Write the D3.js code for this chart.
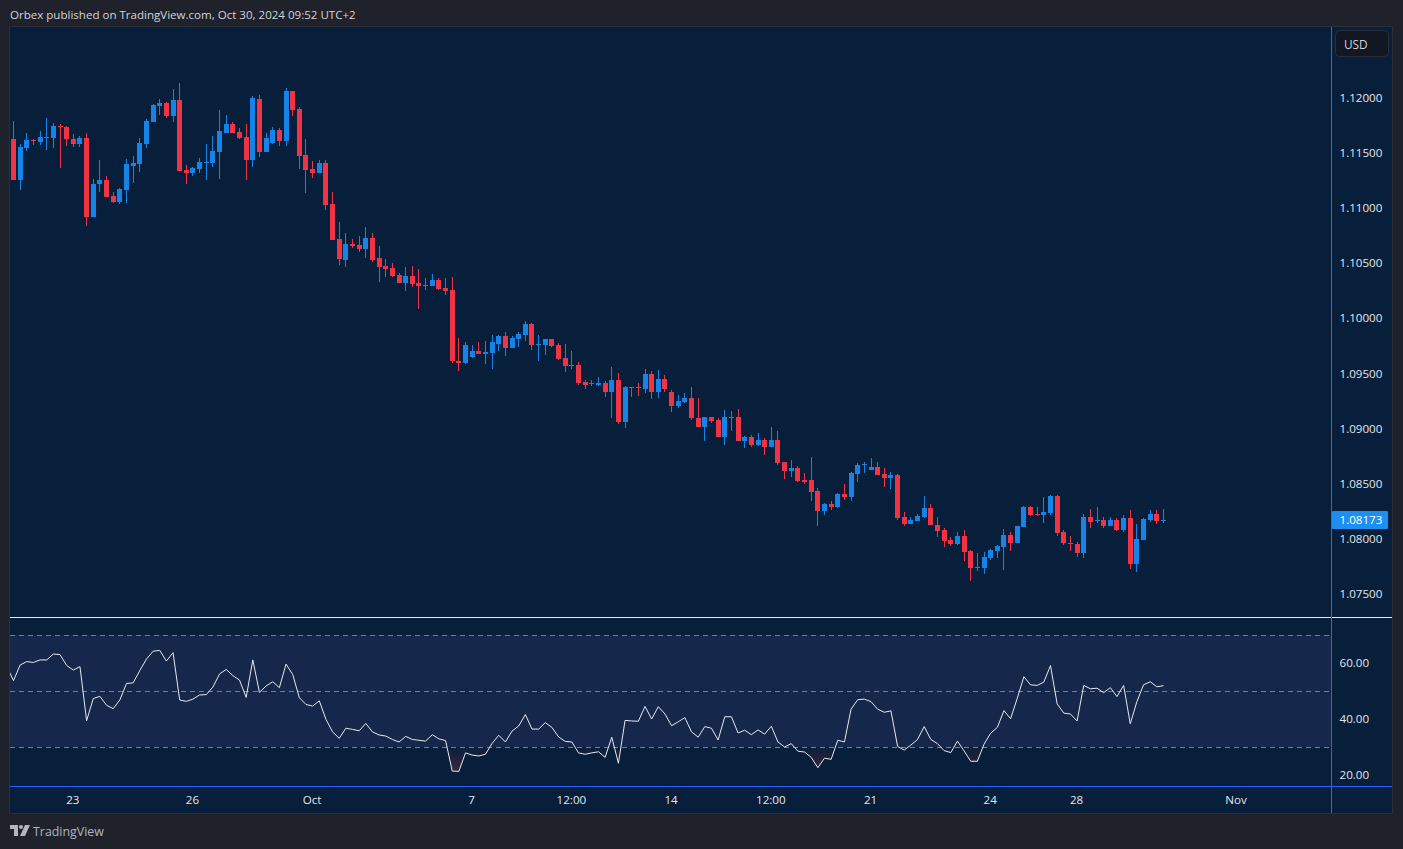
<!DOCTYPE html>
<html><head><meta charset="utf-8">
<script src="https://cdn.jsdelivr.net/npm/d3@7/dist/d3.min.js"></script>
<style>
html,body{margin:0;padding:0;background:#1f222b;overflow:hidden}
svg{display:block}
text{font-family:"Open Sans",sans-serif}
</style></head><body><svg id="c" width="1403" height="849"></svg>
<script>
const title = "Orbex published on TradingView.com, Oct 30, 2024 09:52 UTC+2";
const highs = [1.11787,1.11579,1.11678,1.11624,1.11696,1.11814,1.11769,1.11760,1.11742,1.11669,
1.11651,1.11678,1.11261,1.11434,1.11289,1.11144,1.11180,1.11443,1.11470,1.11633,
1.11805,1.11941,1.11986,1.11959,1.12077,1.12131,1.11388,1.11370,1.11452,1.11579,
1.11651,1.11887,1.11841,1.11778,1.11724,1.11760,1.12013,1.12022,1.11678,1.11733,
1.11724,1.12086,1.12059,1.11914,1.11624,1.11425,1.11434,1.11434,1.11144,1.10872,
1.10772,1.10718,1.10745,1.10827,1.10772,1.10654,1.10537,1.10500,1.10410,1.10464,
1.10473,1.10446,1.10365,1.10401,1.10365,1.10365,1.10374,1.09821,1.09785,1.09757,
1.09785,1.09794,1.09848,1.09848,1.09875,1.09839,1.09875,1.09975,1.09957,1.09848,
1.09812,1.09812,1.09776,1.09767,1.09703,1.09603,1.09440,1.09440,1.09468,1.09431,
1.09558,1.09504,1.09386,1.09377,1.09413,1.09540,1.09522,1.09531,1.09486,1.09350,
1.09305,1.09323,1.09377,1.09278,1.09106,1.09106,1.09097,1.09169,1.09160,1.09178,
1.08933,1.08942,1.08961,1.08915,1.09015,1.08979,1.08698,1.08716,1.08662,1.08598,
1.08743,1.08462,1.08326,1.08345,1.08417,1.08499,1.08607,1.08689,1.08698,1.08734,
1.08698,1.08644,1.08607,1.08589,1.08245,1.08200,1.08227,1.08390,1.08317,1.08200,
1.08101,1.08019,1.08064,1.08082,1.07901,1.07874,1.07883,1.07910,1.07946,1.08091,
1.08064,1.08119,1.08300,1.08300,1.08291,1.08381,1.08399,1.08399,1.08082,1.08028,
1.07974,1.08227,1.08273,1.08291,1.08200,1.08200,1.08191,1.08218,1.08264,1.08137,
1.08191,1.08264,1.08264,1.08273];
const lows = [1.11252,1.11162,1.11515,1.11569,1.11569,1.11524,1.11542,1.11361,1.11560,1.11551,
1.11551,1.10836,1.10917,1.11144,1.11098,1.11044,1.11035,1.11044,1.11225,1.11325,
1.11542,1.11778,1.11841,1.11814,1.11778,1.11334,1.11216,1.11289,1.11316,1.11252,
1.11370,1.11261,1.11678,1.11678,1.11624,1.11252,1.11370,1.11461,1.11506,1.11579,
1.11560,1.11560,1.11832,1.11352,1.11135,1.11271,1.11316,1.10981,1.10709,1.10482,
1.10464,1.10636,1.10600,1.10546,1.10509,1.10328,1.10374,1.10374,1.10319,1.10247,
1.10283,1.10084,1.10256,1.10292,1.10256,1.10210,1.09594,1.09522,1.09585,1.09640,
1.09676,1.09585,1.09540,1.09703,1.09658,1.09730,1.09739,1.09794,1.09712,1.09613,
1.09667,1.09739,1.09622,1.09513,1.09540,1.09395,1.09359,1.09386,1.09386,1.09286,
1.09096,1.09042,1.09006,1.09286,1.09295,1.09323,1.09268,1.09277,1.09332,1.09151,
1.09187,1.09232,1.09078,1.09015,1.08888,1.09051,1.08924,1.08852,1.08979,1.08888,
1.08825,1.08834,1.08843,1.08761,1.08834,1.08671,1.08544,1.08562,1.08517,1.08499,
1.08345,1.08118,1.08218,1.08263,1.08281,1.08354,1.08345,1.08517,1.08598,1.08625,
1.08580,1.08471,1.08453,1.08172,1.08118,1.08136,1.08163,1.08191,1.08127,1.08018,
1.07928,1.07937,1.07946,1.07802,1.07620,1.07711,1.07684,1.07811,1.07829,1.07720,
1.07892,1.07965,1.08110,1.08209,1.08209,1.08146,1.08218,1.08028,1.07946,1.07892,
1.07838,1.07829,1.08101,1.08146,1.08101,1.08119,1.08073,1.08064,1.07729,1.07702,
1.07992,1.08155,1.08137,1.08146];
const opens = [1.11624,1.11252,1.11542,1.11615,1.11597,1.11633,1.11633,1.11742,1.11733,1.11624,
1.11579,1.11633,1.10917,1.11216,1.11252,1.11107,1.11053,1.11162,1.11379,1.11397,
1.11579,1.11778,1.11923,1.11950,1.11832,1.11977,1.11343,1.11316,1.11352,1.11406,
1.11406,1.11506,1.11678,1.11760,1.11687,1.11642,1.11434,1.11986,1.11506,1.11588,
1.11705,1.11606,1.12059,1.11896,1.11479,1.11352,1.11316,1.11406,1.11035,1.10718,
1.10528,1.10673,1.10663,1.10627,1.10727,1.10546,1.10473,1.10455,1.10392,1.10319,
1.10383,1.10319,1.10301,1.10292,1.10346,1.10274,1.10256,1.09613,1.09594,1.09649,
1.09703,1.09676,1.09685,1.09767,1.09839,1.09730,1.09812,1.09848,1.09948,1.09757,
1.09757,1.09812,1.09757,1.09640,1.09576,1.09576,1.09422,1.09404,1.09395,1.09413,
1.09332,1.09440,1.09060,1.09377,1.09377,1.09359,1.09495,1.09332,1.09449,1.09332,
1.09205,1.09241,1.09278,1.09097,1.09015,1.09106,1.09078,1.08924,1.09097,1.09106,
1.08888,1.08924,1.08852,1.08897,1.08834,1.08897,1.08698,1.08616,1.08644,1.08535,
1.08535,1.08435,1.08254,1.08317,1.08290,1.08408,1.08381,1.08589,1.08671,1.08625,
1.08653,1.08589,1.08553,1.08580,1.08200,1.08136,1.08163,1.08200,1.08281,1.08127,
1.08082,1.07992,1.07956,1.08028,1.07892,1.07747,1.07738,1.07829,1.07892,1.07928,
1.08037,1.07965,1.08110,1.08291,1.08227,1.08218,1.08236,1.08390,1.08064,1.07965,
1.07956,1.07874,1.08200,1.08164,1.08173,1.08119,1.08173,1.08082,1.08191,1.07774,
1.07992,1.08173,1.08227,1.08164];
const closes = [1.11252,1.11551,1.11615,1.11606,1.11642,1.11642,1.11742,1.11733,1.11624,1.11579,
1.11633,1.10917,1.11216,1.11252,1.11098,1.11053,1.11171,1.11397,1.11406,1.11588,
1.11787,1.11932,1.11950,1.11832,1.11977,1.11334,1.11316,1.11361,1.11415,1.11415,
1.11515,1.11696,1.11760,1.11678,1.11633,1.11434,1.11995,1.11506,1.11633,1.11705,
1.11606,1.12059,1.11887,1.11470,1.11343,1.11316,1.11406,1.11026,1.10709,1.10537,
1.10673,1.10654,1.10627,1.10727,1.10528,1.10464,1.10446,1.10383,1.10319,1.10383,
1.10310,1.10292,1.10292,1.10346,1.10265,1.10247,1.09613,1.09594,1.09757,1.09703,
1.09676,1.09694,1.09785,1.09839,1.09730,1.09821,1.09857,1.09948,1.09757,1.09767,
1.09812,1.09748,1.09631,1.09567,1.09567,1.09413,1.09395,1.09413,1.09413,1.09332,
1.09440,1.09060,1.09377,1.09368,1.09368,1.09495,1.09332,1.09449,1.09359,1.09205,
1.09251,1.09278,1.09097,1.09015,1.09106,1.09069,1.08924,1.09106,1.09106,1.08888,
1.08924,1.08852,1.08897,1.08834,1.08897,1.08689,1.08616,1.08644,1.08526,1.08517,
1.08426,1.08254,1.08317,1.08290,1.08408,1.08381,1.08598,1.08671,1.08680,1.08653,
1.08580,1.08553,1.08580,1.08191,1.08136,1.08172,1.08209,1.08281,1.08127,1.08073,
1.07983,1.07956,1.08028,1.07883,1.07738,1.07738,1.07838,1.07901,1.07937,1.08037,
1.07965,1.08119,1.08291,1.08218,1.08218,1.08245,1.08390,1.08055,1.07965,1.07956,
1.07874,1.08200,1.08155,1.08173,1.08119,1.08173,1.08082,1.08191,1.07774,1.08001,
1.08182,1.08227,1.08164,1.08173];
// RSI, one earlier value (index -1) is cut by the pane edge
const rsiBefore = 58.7;
const rsi = [53.7,59.3,60.5,60.2,61.1,61.1,63.2,63.0,59.1,57.5,
58.7,39.4,47.3,48.1,44.9,43.7,46.8,52.7,52.9,57.3,
61.4,64.2,64.5,60.7,63.7,46.8,46.3,47.1,48.6,48.7,
51.4,56.1,57.7,55.5,53.9,47.7,61.1,49.5,51.8,53.3,
51.2,59.6,55.9,47.6,45.2,44.6,46.5,39.9,35.4,33.1,
36.7,36.3,35.8,38.4,35.4,34.3,33.9,32.7,31.8,33.8,
32.7,32.4,32.1,34.4,32.9,32.3,21.4,21.3,27.9,27.1,
26.8,27.4,31.3,34.2,31.8,35.7,37.5,41.6,36.4,36.4,
38.7,37.0,33.6,32.0,31.8,27.9,27.4,27.9,28.3,26.3,
33.5,24.2,39.5,39.3,39.2,44.5,40.0,44.4,41.8,37.6,
39.0,40.5,35.4,33.5,37.3,36.7,32.5,40.8,40.8,35.0,
36.0,34.4,36.1,34.6,37.4,31.8,30.0,31.2,28.5,28.2,
26.3,22.6,26.0,25.6,32.4,31.8,43.5,46.9,47.1,46.2,
43.5,42.4,42.9,30.2,28.9,30.7,32.7,37.3,32.7,31.2,
28.7,28.0,32.1,28.6,24.9,24.9,31.0,34.9,37.0,43.0,
40.1,47.4,55.1,52.2,52.0,53.2,59.1,45.4,42.1,41.8,
39.3,52.0,50.8,51.0,49.4,51.2,48.0,52.0,38.3,46.2,
52.2,53.3,51.5,51.9];
const priceTicks = [1.12,1.115,1.11,1.105,1.10,1.095,1.09,1.085,1.08,1.075];
const rsiTicks = [60,40,20];
const rsiBands = [70,50,30];
const timeTickIndex = [9,27,45,69,84,99,114,129,147,160,184];
const timeTickLabel = ["23","26","Oct","7","12:00","14","12:00","21","24","28","Nov"];
const lastPrice = 1.08173;
const currency = "USD";

const C = {bg:"#1f222b", pane:"#071f3b", band:"#16274c", blue:"#1584e9", red:"#f23344",
  line:"#2962ff", txt:"#e4e6ec", border:"#2a2e39", last:"#1e8ff2"};
const P = {l:10, r:1392, t:27, b:813, axisX:1331, sep:618, timeY:787};

const svg = d3.select("#c");
const x = d3.scaleLinear().domain([0,173]).range([13.5,1163.5]);
const y = d3.scaleLinear().domain([1.075,1.12]).range([594,97.5]);
const yr = d3.scaleLinear().domain([20,60]).range([775,663]);
const cx = i => Math.floor(x(i));

svg.append("rect").attr("width",1403).attr("height",849).attr("fill",C.bg);
svg.append("text").attr("x",10).attr("y",18.6).attr("font-size",11.55).attr("fill","#d1d4dc").text(title);

svg.append("rect").attr("x",P.l-.5).attr("y",P.t-.5).attr("width",P.r-P.l+1).attr("height",P.b-P.t+1)
   .attr("fill",C.pane).attr("stroke",C.border);

const defs = svg.append("defs");
defs.append("clipPath").attr("id","plot").append("rect").attr("x",P.l).attr("y",P.sep).attr("width",P.axisX-P.l).attr("height",P.timeY-P.sep);
defs.append("clipPath").attr("id","os").append("rect").attr("x",P.l).attr("y",yr(30)).attr("width",P.axisX-P.l).attr("height",P.timeY-yr(30));
const grad = defs.append("linearGradient").attr("id","osg").attr("gradientUnits","userSpaceOnUse")
  .attr("x1",0).attr("x2",0).attr("y1",yr(30)).attr("y2",yr(20));
grad.append("stop").attr("offset",0).attr("stop-color","#f23645").attr("stop-opacity",0);
grad.append("stop").attr("offset",1).attr("stop-color","#f23645").attr("stop-opacity",.28);

// candles
const idx = d3.range(opens.length);
const g = svg.append("g").attr("shape-rendering","crispEdges");
const col = i => closes[i]>=opens[i]?C.blue:C.red;
g.selectAll("line.w").data(idx).join("line").attr("class","w")
  .attr("x1",i=>cx(i)+.5).attr("x2",i=>cx(i)+.5)
  .attr("y1",i=>y(highs[i])).attr("y2",i=>y(lows[i]))
  .attr("stroke",col).attr("stroke-width",1);
g.selectAll("rect.b").data(idx).join("rect").attr("class","b")
  .attr("x",i=>cx(i)-2).attr("width",5)
  .attr("y",i=>Math.round(y(Math.max(opens[i],closes[i]))))
  .attr("height",i=>Math.max(1,Math.round(y(Math.min(opens[i],closes[i])))-Math.round(y(Math.max(opens[i],closes[i])))))
  .attr("fill",col);

// separators
svg.append("line").attr("x1",P.l).attr("x2",P.r).attr("y1",P.sep-.5).attr("y2",P.sep-.5).attr("stroke","#e8ecf5").attr("stroke-width",1);
svg.append("line").attr("x1",P.l).attr("x2",P.r).attr("y1",P.timeY-.5).attr("y2",P.timeY-.5).attr("stroke",C.line).attr("stroke-width",1);
svg.append("line").attr("x1",P.axisX+.5).attr("x2",P.axisX+.5).attr("y1",P.t).attr("y2",P.b).attr("stroke",C.line).attr("stroke-width",1);

// RSI pane
svg.append("rect").attr("x",P.l).attr("y",yr(70)).attr("width",P.axisX-P.l).attr("height",yr(30)-yr(70)).attr("fill",C.band);
const series = [[-1,rsiBefore]].concat(rsi.map((v,i)=>[i,v]));
svg.append("path").datum(series).attr("clip-path","url(#os)")
  .attr("d",d3.area().x(d=>x(d[0])).y0(yr(30)).y1(d=>yr(d[1])))
  .attr("fill","url(#osg)");
svg.selectAll("line.band").data(rsiBands).join("line").attr("class","band")
  .attr("x1",P.l).attr("x2",P.axisX).attr("y1",d=>Math.round(yr(d))+.5).attr("y2",d=>Math.round(yr(d))+.5)
  .attr("stroke","#787e8e").attr("stroke-dasharray","5 4").attr("stroke-width",1);
svg.append("path").datum(series).attr("clip-path","url(#plot)")
  .attr("d",d3.line().x(d=>x(d[0])).y(d=>yr(d[1])))
  .attr("fill","none").attr("stroke","#e6e8ef").attr("stroke-width",1);

// axes
function styleAxis(sel){
  sel.select(".domain").remove();
  sel.selectAll("line").remove();
  sel.selectAll("text").attr("fill",C.txt).attr("font-size",11.6).attr("font-weight",500)
     .attr("font-family",'Roboto,sans-serif');
}
svg.append("g").attr("transform",`translate(1339.5,0)`)
  .call(d3.axisRight(y).tickValues(priceTicks).tickFormat(d3.format(".5f")).tickSize(0).tickPadding(0))
  .call(styleAxis);
svg.append("g").attr("transform",`translate(1339.5,0)`)
  .call(d3.axisRight(yr).tickValues(rsiTicks).tickFormat(d3.format(".2f")).tickSize(0).tickPadding(0))
  .call(styleAxis);
svg.append("g").attr("transform",`translate(-1,${P.timeY+9})`)
  .call(d3.axisBottom(x).tickValues(timeTickIndex).tickFormat((d,i)=>timeTickLabel[i]).tickSize(0).tickPadding(0))
  .call(styleAxis);

// last price label
const ly = y(lastPrice);
svg.append("rect").attr("x",P.axisX+1).attr("y",Math.round(ly)-9).attr("width",56).attr("height",18).attr("fill",C.last).attr("rx",1);
svg.append("text").attr("x",1339.5).attr("y",ly+4.5).attr("font-size",11.6).attr("font-weight",500).attr("font-family","Roboto,sans-serif").attr("fill","#fff").text(d3.format(".5f")(lastPrice));

// USD button
svg.append("rect").attr("x",1335.5).attr("y",30.5).attr("width",53).attr("height",26).attr("rx",4)
  .attr("fill","#131722").attr("stroke","#2a2e39");
svg.append("text").attr("x",1344).attr("y",48.5).attr("font-size",11.8).attr("font-weight",500).attr("font-family","Roboto,sans-serif").attr("fill","#d1d4dc").text(currency);

// footer logo + word
const logo = svg.append("g").attr("fill","#b2b5be").attr("transform","translate(10,825)");
logo.append("path").attr("d","M0 0H8V11H4V4H0Z");
logo.append("circle").attr("cx",11).attr("cy",2).attr("r",2);
logo.append("path").attr("d","M15 0H20L15 11H10Z");
svg.append("text").attr("x",33).attr("y",836).attr("font-size",12.4).attr("font-weight",500).attr("fill","#b2b5be").text("TradingView");
</script></body></html>
